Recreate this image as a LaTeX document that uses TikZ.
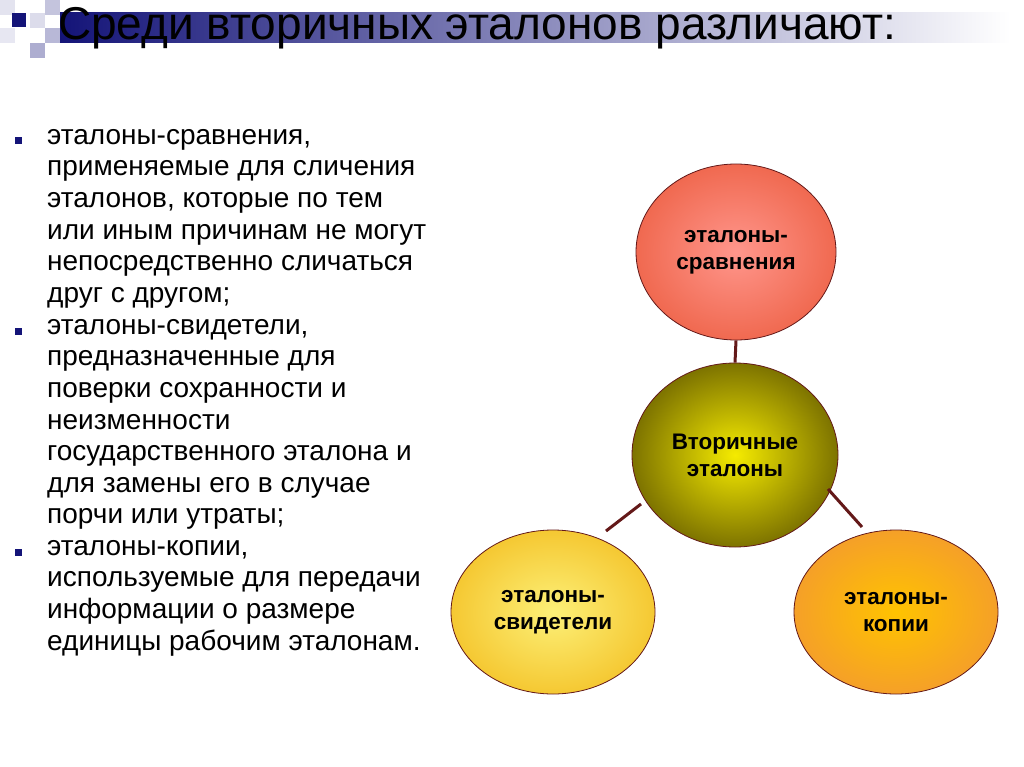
\documentclass[tikz,border=0pt]{standalone}
\usepackage{fontspec}
\setmainfont{Liberation Sans}
\usetikzlibrary{shapes.geometric}
\definecolor{navy}{RGB}{20,20,120}
\definecolor{brn}{RGB}{100,25,25}
\tikzset{
 bub/.style={ellipse,draw=brn,line width=0.8pt,minimum width=204pt,align=center,font=\fontsize{22.5}{27}\selectfont\bfseries},
 para/.style={anchor=north west,align=left,inner sep=0pt,font=\fontsize{28}{31.6}\selectfont},
 blt/.style={fill=navy,minimum size=7pt,inner sep=0pt},
 link/.style={draw=brn,line width=3pt},
 sq/.style={inner sep=0pt,minimum size=15pt,anchor=north west}
}
\begin{document}
\begin{tikzpicture}[x=1pt,y=-1pt]
\useasboundingbox (0,0) rectangle (1024,767);
\fill[white] (0,0) rectangle (1024,767);
% decoration
\node[sq,fill=navy!12] (d1) at (0,0) {};
\node[sq,fill=navy!25] (d2) at (45,0) {};
\node[sq,fill=navy!15] (d3) at (30,13) {};
\node[sq,fill=navy!30] (d4) at (45,28) {};
\node[sq,fill=navy!35] (d5) at (30,43) {};
\node[sq,fill=navy!10] (d6) at (0,28) {};
\shade[left color=navy,right color=white] (60,13) rectangle (1010,43);
\node[sq,fill=navy,minimum size=14pt] (d0) at (12,13) {};
\node[anchor=base west,inner sep=0pt,font=\fontsize{46}{50}\selectfont] (title) at (58,40) {Среди вторичных эталонов различают:};
% bullets
\node[blt] (b1) at (18,141) {};
\node[blt] (b2) at (18,331) {};
\node[blt] (b3) at (18,552) {};
\node[para] (p1) at (47,129) {эталоны-сравнения,\\применяемые для сличения\\эталонов, которые по тем\\или иным причинам не могут\\непосредственно сличаться\\друг с другом;};
\node[para] (p2) at (47,319) {эталоны-свидетели,\\предназначенные для\\поверки сохранности и\\неизменности\\государственного эталона и\\для замены его в случае\\порчи или утраты;};
\node[para] (p3) at (47,540) {эталоны-копии,\\используемые для передачи\\информации о размере\\единицы рабочим эталонам.};
% circles
\node[bub,minimum width=200pt,minimum height=176pt,inner color={rgb,255:red,255;green,150;blue,140},outer color={rgb,255:red,240;green,105;blue,80}] (top) at (736,252) {эталоны-\\сравнения};
\node[bub,minimum width=206pt,minimum height=184pt,inner color={rgb,255:red,245;green,235;blue,0},outer color={rgb,255:red,125;green,115;blue,0}] (mid) at (735,455) {Вторичные\\эталоны};
\node[bub,minimum height=164pt,inner color={rgb,255:red,252;green,240;blue,120},outer color={rgb,255:red,245;green,200;blue,50}] (lft) at (553,612) {эталоны-\\свидетели};
\node[bub,minimum height=164pt,inner color={rgb,255:red,255;green,195;blue,0},outer color={rgb,255:red,245;green,160;blue,40}] (rgt) at (896,612) {эталоны-\\копии};
\coordinate (la) at (641,504);
\coordinate (lb) at (606,531);
\coordinate (ra) at (828,489);
\coordinate (rb) at (862,527);
\draw[link] (top.south) -- (mid.north);
\draw[link] (la) -- (lb);
\draw[link] (ra) -- (rb);
\end{tikzpicture}
\end{document}
